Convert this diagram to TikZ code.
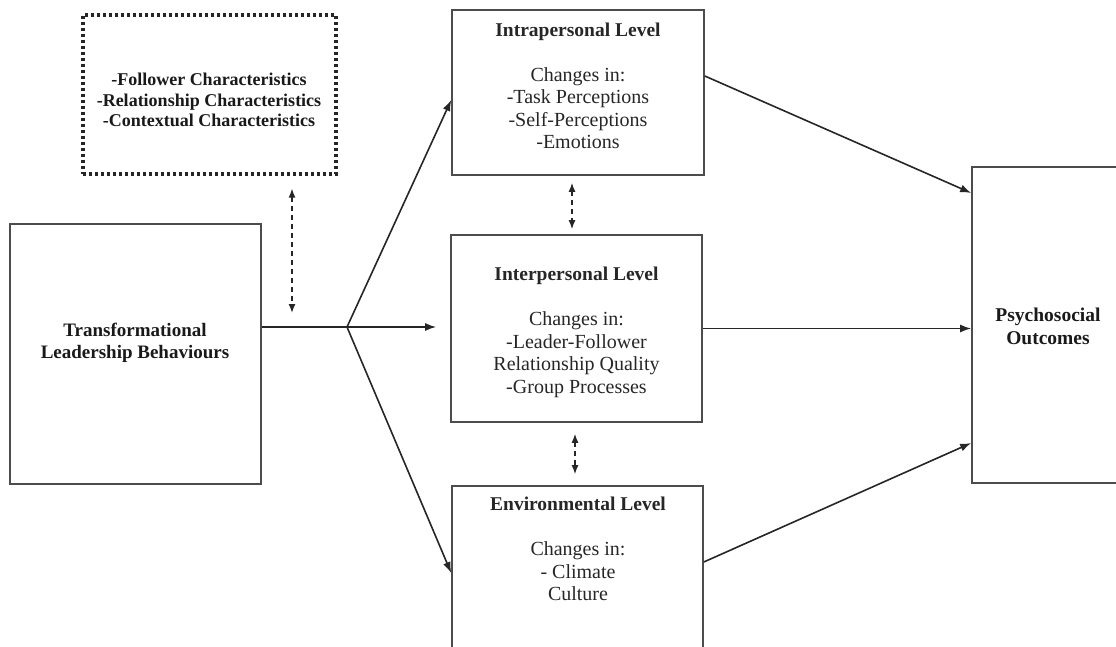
\documentclass[tikz,border=0pt]{standalone}
\usepackage{fontspec}
\setmainfont{Liberation Serif}
\usetikzlibrary{arrows.meta}
\usetikzlibrary{calc}
\usetikzlibrary{positioning}

\begin{document}
\begin{tikzpicture}[x=1pt,y=-1pt,semithick]
	\tikzstyle{box}=[draw=black!70, line width=1.6pt, rectangle, inner sep=0pt]
	\tikzstyle{dotbox}=[draw=black!85, line width=3.2pt, dash pattern=on 3pt off 3pt, rectangle, inner sep=0pt]
	\tikzstyle{txt}=[align=center, inner sep=0pt, text=black!85, font=\fontsize{20}{22.5}\selectfont]
	\tikzstyle{btxt}=[align=center, inner sep=0pt, text=black!90, font=\bfseries\fontsize{19}{22.5}\selectfont]
	\tikzstyle{link}=[-{Latex[length=11pt,width=8pt]}, line width=1.6pt, black!85]
	\tikzstyle{dlink}=[{Latex[length=9pt,width=7pt]}-{Latex[length=9pt,width=7pt]}, line width=1.4pt, dash pattern=on 5pt off 4pt, black!85]

	\useasboundingbox (0,0) rectangle (1116,647);
	\clip (0,0) rectangle (1116,647);

	% boxes
	\node[dotbox, minimum width=253pt, minimum height=159pt] (follow) at (209.5,94.5) {};
	\node[box, minimum width=251pt, minimum height=260pt] (lead) at (135.5,354) {};
	\node[box, minimum width=252pt, minimum height=165pt] (intra) at (578,92.5) {};
	\node[box, minimum width=251pt, minimum height=187pt] (inter) at (576.5,328.5) {};
	\node[box, minimum width=251pt, minimum height=174pt] (env) at (577.5,573) {};
	\node[box, minimum width=158pt, minimum height=316pt] (psych) at (1051,325) {};

	% texts
	\node[btxt, font=\bfseries\fontsize{18}{20.5}\selectfont] (followtxt) at (209,100)
		{-Follower Characteristics\\-Relationship Characteristics\\-Contextual Characteristics};
	\node[btxt] (leadtxt) at (135,343) {Transformational\\Leadership Behaviours};
	\node[txt] (intratxt) at (578,86)
		{\textbf{\fontsize{19.5}{22.5}\selectfont Intrapersonal Level}\\[22pt]Changes in:\\-Task Perceptions\\-Self-Perceptions\\-Emotions};
	\node[txt] (intertxt) at (576.5,332.5)
		{\textbf{\fontsize{19.5}{22.5}\selectfont Interpersonal Level}\\[22.5pt]Changes in:\\-Leader-Follower\\Relationship Quality\\-Group Processes};
	\node[txt] (envtxt) at (578,549)
		{\textbf{\fontsize{19.5}{22.5}\selectfont Environmental Level}\\[22.5pt]Changes in:\\- Climate\\Culture};
	\node[btxt, font=\bfseries\fontsize{19.5}{23}\selectfont] (psychtxt) at (1048,326.5) {Psychosocial\\Outcomes};

	% connectors
	\coordinate (J) at (347,327);
	\coordinate (D) at (292,327);
	\draw[line width=1.6pt, black!85] (lead.east |- J) -- (J);
	\draw[link] (J) -- ([yshift=-7.5pt]intra.west);
	\draw[link, shorten >=14pt] (J) -- (inter.west |- J);
	\draw[link] (J) -- (env.west);

	\draw[link] ([yshift=16.5pt]intra.east) -- ([yshift=132pt]psych.west);
	\draw[link] (inter.east) -- (inter.east -| psych.west);
	\draw[link] ([yshift=11pt]env.east) -- ([yshift=-118pt]psych.west);

	\draw[dlink, shorten <=13pt, shorten >=14pt] (follow.south -| D) -- (D);
	\draw[dlink, shorten <=7pt, shorten >=5pt] ([xshift=-6pt]intra.south) -- ([xshift=-6pt]intra.south |- inter.north);
	\draw[dlink, shorten <=11pt, shorten >=11pt] ([xshift=-1.5pt]inter.south) -- ([xshift=-1.5pt]inter.south |- env.north);
\end{tikzpicture}
\end{document}
